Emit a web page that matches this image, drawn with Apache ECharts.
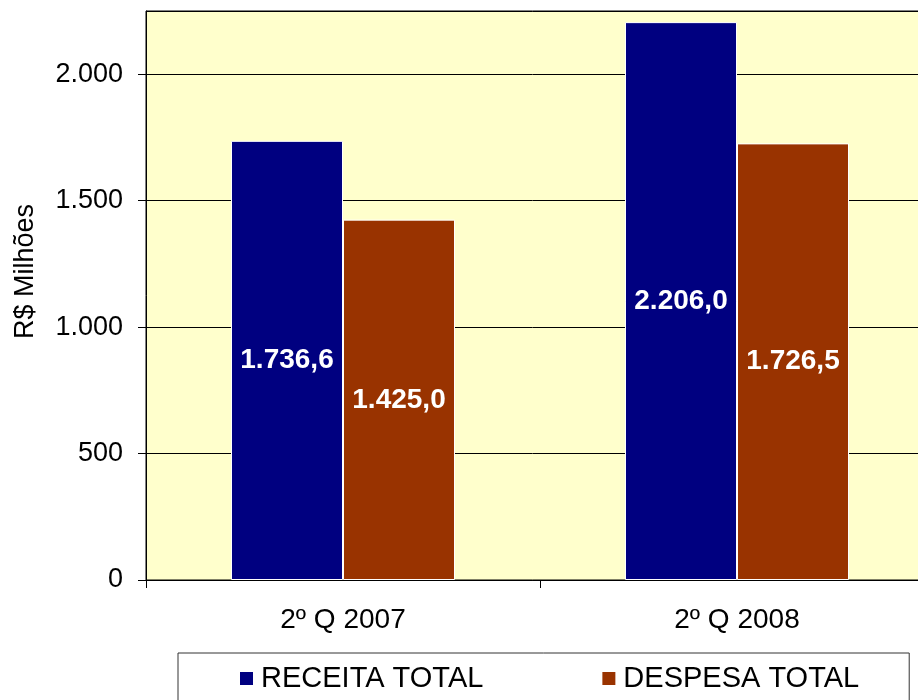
<!DOCTYPE html>
<html>
<head>
<meta charset="utf-8">
<script src="https://cdn.jsdelivr.net/npm/echarts@6/dist/echarts.min.js"></script>
<style>
  html, body { margin: 0; padding: 0; background: #fff; }
  #chart { width: 918px; height: 700px; }
</style>
</head>
<body>
<div id="chart"></div>
<script>
// dados do gráfico
const categories = ['2º Q 2007', '2º Q 2008']
const receita = [1736.6, 2206.0]
const despesa = [1425.0, 1726.5]
const seriesNames = ['RECEITA TOTAL', 'DESPESA TOTAL']

// formato brasileiro: 1.736,6
const fmtBR = (v, dec) => {
  const parts = v.toFixed(dec).split('.')
  parts[0] = parts[0].replace(/\B(?=(\d{3})+(?!\d))/g, '.')
  return dec ? parts[0] + ',' + parts[1] : parts[0]
}

const chart = echarts.init(document.getElementById('chart'))

const barLabel = {
  show: true,
  position: 'inside',
  color: '#fff',
  fontWeight: 'bold',
  fontSize: 28,
  fontFamily: 'Liberation Sans',
  formatter: (p) => fmtBR(p.value, 1)
}

const option = {
  animation: false,
  textStyle: { fontFamily: 'Liberation Sans' },
  grid: {
    left: 146,
    top: 11,
    width: 788,
    bottom: 120,
    outerBoundsMode: 'none',
    show: true,
    backgroundColor: '#FFFFCC',
    borderColor: '#000',
    borderWidth: 1
  },
  legend: {
    data: seriesNames,
    left: 178,
    top: 653,
    padding: [11, 50, 30, 60],
    itemGap: 117,
    itemWidth: 15,
    itemHeight: 15,
    borderColor: '#333',
    borderWidth: 1,
    icon: 'rect',
    textStyle: { fontSize: 29, color: '#000', fontFamily: 'Liberation Sans', padding: [0, 0, 0, 2] }
  },
  xAxis: {
    type: 'category',
    data: categories,
    axisLine: { lineStyle: { color: '#000' } },
    axisTick: { show: true, length: 8, lineStyle: { color: '#000' } },
    axisLabel: { color: '#000', fontSize: 28, margin: 26 }
  },
  yAxis: {
    type: 'value',
    min: 0,
    max: 2250,
    interval: 500,
    name: 'R$ Milhões',
    nameLocation: 'middle',
    nameGap: 107,
    nameTextStyle: { color: '#000', fontSize: 27, padding: [0, 0, 0, 48] },
    axisLine: { show: true, lineStyle: { color: '#000' } },
    axisTick: { show: true, length: 8, lineStyle: { color: '#000' } },
    axisLabel: {
      color: '#000',
      fontSize: 27,
      margin: 23,
      showMaxLabel: false,
      formatter: (v) => fmtBR(v, 0)
    },
    splitLine: { lineStyle: { color: '#000', width: 1 } }
  },
  series: [
    {
      name: seriesNames[0],
      type: 'bar',
      data: receita,
      barWidth: 112,
      barGap: '0%',
      itemStyle: { color: '#000080', borderColor: '#fff', borderWidth: 1 },
      label: barLabel
    },
    {
      name: seriesNames[1],
      type: 'bar',
      data: despesa,
      barWidth: 112,
      itemStyle: { color: '#993300', borderColor: '#fff', borderWidth: 1 },
      label: barLabel
    }
  ]
}

chart.setOption(option)
</script>
</body>
</html>
